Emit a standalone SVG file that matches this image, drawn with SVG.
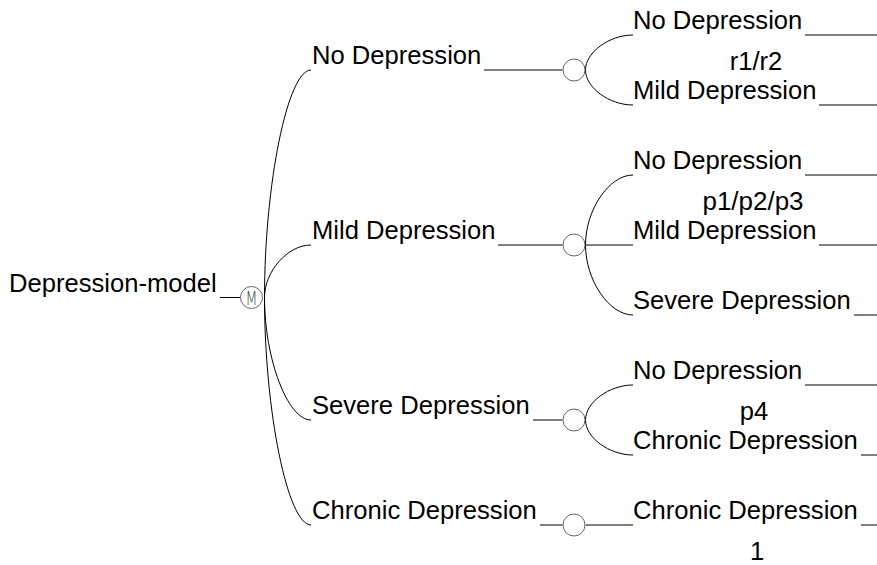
<svg xmlns="http://www.w3.org/2000/svg" width="877" height="565" viewBox="0 0 877 565">
<style>
  .t { font-family: "Liberation Sans", Arial, sans-serif; font-size: 25px; fill: #000; }
  .c { text-anchor: middle; }
  .ln { stroke: #000; stroke-width: 1; fill: none; }
  .chance { fill: #fff; stroke: #666; stroke-width: 1; }
  .m { font-family: "DejaVu Sans", sans-serif; font-weight: 200; font-size: 19px; fill: #444; text-anchor: middle; }
</style>
<rect width="877" height="565" fill="#fff"/>
<g id="connectors">
  <line class="ln" x1="220" y1="297.5" x2="240.5" y2="297.5"/>
  <path class="ln" d="M264.5,297.5 C264.5,183.75 287.75,70 311,70"/>
  <path class="ln" d="M264.5,297.5 C264.5,271.25 287.75,245 311,245"/>
  <path class="ln" d="M264.5,297.5 C264.5,359 287.75,420 311,420"/>
  <path class="ln" d="M264.5,297.5 C264.5,411.25 287.75,525 311,525"/>
  <line class="ln" x1="484" y1="70" x2="562.5" y2="70"/>
  <line class="ln" x1="498" y1="245" x2="562.5" y2="245"/>
  <line class="ln" x1="533" y1="420" x2="562.5" y2="420"/>
  <line class="ln" x1="540" y1="525" x2="562.5" y2="525"/>
  <path class="ln" d="M585.5,70 C585.5,52.5 609,35 633,35"/>
  <path class="ln" d="M585.5,70 C585.5,87.5 609,105 633,105"/>
  <path class="ln" d="M585.5,245 C585.5,210 609,175 633,175"/>
  <line class="ln" x1="585.5" y1="245" x2="633" y2="245"/>
  <path class="ln" d="M585.5,245 C585.5,280 609,315 633,315"/>
  <path class="ln" d="M585.5,420 C585.5,402.5 609,385 633,385"/>
  <path class="ln" d="M585.5,420 C585.5,437.5 609,455 633,455"/>
  <line class="ln" x1="585.5" y1="525" x2="633" y2="525"/>
  <line class="ln" x1="805" y1="35" x2="877" y2="35"/>
  <line class="ln" x1="819" y1="105" x2="877" y2="105"/>
  <line class="ln" x1="805" y1="175" x2="877" y2="175"/>
  <line class="ln" x1="819" y1="245" x2="877" y2="245"/>
  <line class="ln" x1="854" y1="315" x2="877" y2="315"/>
  <line class="ln" x1="805" y1="385" x2="877" y2="385"/>
  <line class="ln" x1="861" y1="455" x2="877" y2="455"/>
  <line class="ln" x1="861" y1="525" x2="877" y2="525"/>
</g>
<g id="root">
  <text class="t" x="9" y="292" textLength="207.7" lengthAdjust="spacingAndGlyphs">Depression-model</text>
</g>
<g id="markov-node">
  <circle class="chance" cx="251.5" cy="297.5" r="11"/>
  <text class="m" x="251.5" y="304.5" textLength="12" lengthAdjust="spacingAndGlyphs">M</text>
</g>
<g id="branch-no">
  <text class="t" x="312" y="63.5" textLength="169.3" lengthAdjust="spacingAndGlyphs">No Depression</text>
  <circle class="chance" cx="574" cy="70" r="11"/>
</g>
<g id="branch-mild">
  <text class="t" x="312" y="238.5" textLength="183.5" lengthAdjust="spacingAndGlyphs">Mild Depression</text>
  <circle class="chance" cx="574" cy="245" r="11"/>
</g>
<g id="branch-severe">
  <text class="t" x="312" y="413.5" textLength="217.7" lengthAdjust="spacingAndGlyphs">Severe Depression</text>
  <circle class="chance" cx="574" cy="420" r="11"/>
</g>
<g id="branch-chronic">
  <text class="t" x="312" y="518.5" textLength="224.8" lengthAdjust="spacingAndGlyphs">Chronic Depression</text>
  <circle class="chance" cx="574" cy="525" r="11"/>
</g>
<g id="no-no"><text class="t" x="633" y="28.5" textLength="169.3" lengthAdjust="spacingAndGlyphs">No Depression</text></g>
<g id="no-mild"><text class="t" x="633" y="98.5" textLength="183.5" lengthAdjust="spacingAndGlyphs">Mild Depression</text></g>
<g id="no-prob"><text class="t c" x="756" y="70" textLength="52.6" lengthAdjust="spacingAndGlyphs">r1/r2</text></g>
<g id="mild-no"><text class="t" x="633" y="168.5" textLength="169.3" lengthAdjust="spacingAndGlyphs">No Depression</text></g>
<g id="mild-mild"><text class="t" x="633" y="238.5" textLength="183.5" lengthAdjust="spacingAndGlyphs">Mild Depression</text></g>
<g id="mild-severe"><text class="t" x="633" y="308.5" textLength="217.7" lengthAdjust="spacingAndGlyphs">Severe Depression</text></g>
<g id="mild-prob"><text class="t c" x="753" y="210" textLength="101" lengthAdjust="spacingAndGlyphs">p1/p2/p3</text></g>
<g id="severe-no"><text class="t" x="633" y="378.5" textLength="169.3" lengthAdjust="spacingAndGlyphs">No Depression</text></g>
<g id="severe-chronic"><text class="t" x="633" y="448.5" textLength="224.8" lengthAdjust="spacingAndGlyphs">Chronic Depression</text></g>
<g id="severe-prob"><text class="t c" x="754" y="420" textLength="28.5" lengthAdjust="spacingAndGlyphs">p4</text></g>
<g id="chronic-chronic"><text class="t" x="633" y="518.5" textLength="224.8" lengthAdjust="spacingAndGlyphs">Chronic Depression</text></g>
<g id="chronic-prob"><text class="t c" x="757" y="560" textLength="14.2" lengthAdjust="spacingAndGlyphs">1</text></g>
</svg>
